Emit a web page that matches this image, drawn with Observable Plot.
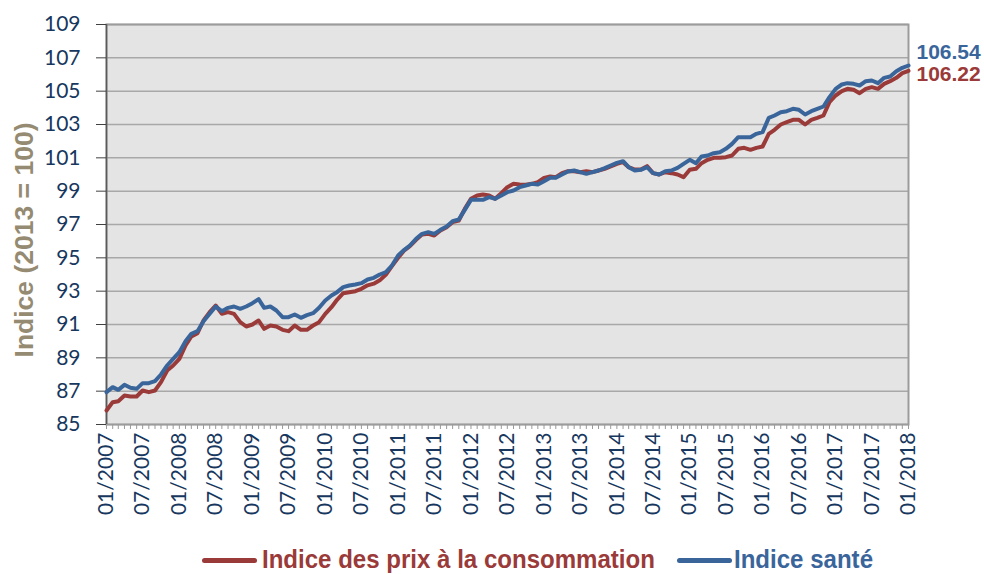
<!DOCTYPE html>
<html>
<head>
<meta charset="utf-8">
<script src="https://cdn.jsdelivr.net/npm/d3@7"></script>
<script src="https://cdn.jsdelivr.net/npm/@observablehq/plot@0.6"></script>
<style>
  html, body { margin: 0; padding: 0; background: #fff; }
  #wrap { position: relative; width: 984px; height: 574px; overflow: hidden; }
  .lg { position: absolute; white-space: nowrap; font-family: "Liberation Sans", Arial, sans-serif; font-weight: bold; font-size: 26px; line-height: 26px; top: 546px; transform-origin: 0 0; transform: scaleX(0.925); }
  .sw { position: absolute; width: 55px; height: 5px; top: 558px; border-radius: 2.5px; }
  #ytitle { position: absolute; left: 33px; top: 240px; white-space: nowrap; font-family: "Liberation Sans", Arial, sans-serif; font-weight: bold; font-size: 26.5px; line-height: 26.5px; color: #958a72; transform-origin: 0 0; transform: rotate(-90deg) translate(-50%, -22.4px); }
</style>
</head>
<body>
<div id="wrap"><div id="chart"></div><div id="ytitle"></div></div>
<script>
const startYear = 2007;
const seriesNames = ["Indice des prix à la consommation", "Indice santé"];
const seriesColors = ["#9a3a39", "#3a659b"];
const yTitle = "Indice (2013 = 100)";
const yTicks = [85, 87, 89, 91, 93, 95, 97, 99, 101, 103, 105, 107, 109];

// Indice des prix à la consommation, monthly 01/2007 .. 01/2018
const ipc = [
  85.84, 86.34, 86.40, 86.74, 86.68, 86.68, 87.04, 86.94, 87.04, 87.54, 88.24, 88.54,
  88.94, 89.74, 90.28, 90.48, 91.24, 91.74, 92.14, 91.64, 91.74, 91.64, 91.14, 90.88,
  91.00, 91.24, 90.74, 90.94, 90.88, 90.68, 90.60, 90.94, 90.68, 90.68, 90.94, 91.14,
  91.64, 92.04, 92.48, 92.88, 92.94, 93.00, 93.14, 93.35, 93.45, 93.65, 94.00, 94.50,
  95.00, 95.45, 95.70, 96.08, 96.40, 96.44, 96.34, 96.64, 96.84, 97.14, 97.24, 97.94,
  98.54, 98.74, 98.80, 98.74, 98.54, 98.88, 99.24, 99.44, 99.40, 99.38, 99.44, 99.54,
  99.80, 99.88, 99.84, 100.08, 100.20, 100.20, 100.14, 100.20, 100.14, 100.24, 100.34, 100.48,
  100.64, 100.74, 100.44, 100.30, 100.30, 100.50, 100.08, 100.00, 100.14, 100.08, 100.00, 99.84,
  100.28, 100.34, 100.68, 100.88, 101.00, 101.00, 101.04, 101.14, 101.54, 101.60, 101.48, 101.60,
  101.68, 102.44, 102.68, 103.00, 103.14, 103.28, 103.28, 103.00, 103.28, 103.40, 103.54, 104.34,
  104.74, 105.00, 105.14, 105.08, 104.88, 105.14, 105.24, 105.14, 105.44, 105.60, 105.80, 106.08,
  106.22
];

// Indice santé, monthly 01/2007 .. 01/2018
const sante = [
  86.94, 87.24, 87.08, 87.38, 87.20, 87.14, 87.48, 87.48, 87.60, 88.00, 88.54, 88.94,
  89.34, 90.00, 90.44, 90.60, 91.20, 91.64, 92.08, 91.80, 92.00, 92.08, 91.94, 92.08,
  92.28, 92.52, 92.00, 92.08, 91.84, 91.44, 91.44, 91.60, 91.40, 91.56, 91.68, 92.00,
  92.44, 92.74, 92.94, 93.24, 93.34, 93.40, 93.48, 93.70, 93.80, 94.00, 94.14, 94.54,
  95.14, 95.48, 95.74, 96.14, 96.44, 96.54, 96.44, 96.68, 96.88, 97.20, 97.30, 97.88,
  98.48, 98.48, 98.48, 98.64, 98.54, 98.74, 98.94, 99.04, 99.24, 99.34, 99.44, 99.40,
  99.60, 99.80, 99.80, 100.00, 100.18, 100.24, 100.14, 100.04, 100.14, 100.24, 100.38, 100.54,
  100.70, 100.80, 100.44, 100.24, 100.28, 100.44, 100.08, 100.00, 100.20, 100.24, 100.40, 100.64,
  100.88, 100.68, 101.08, 101.14, 101.28, 101.34, 101.54, 101.84, 102.24, 102.24, 102.24, 102.44,
  102.54, 103.40, 103.54, 103.74, 103.80, 103.94, 103.88, 103.60, 103.80, 103.94, 104.08, 104.64,
  105.14, 105.40, 105.48, 105.44, 105.34, 105.60, 105.64, 105.48, 105.80, 105.88, 106.20, 106.40,
  106.54
];

const months = ipc.map((_, i) => new Date(Date.UTC(startYear, i, 1)));
const labelMonths = months.filter((_, i) => i % 6 === 0);

const data = [
  ...ipc.map((v, i) => ({date: months[i], value: v, series: seriesNames[0]})),
  ...sante.map((v, i) => ({date: months[i], value: v, series: seriesNames[1]}))
];
const lastIpc = [{date: months[months.length - 1], value: ipc[ipc.length - 1]}];
const lastSante = [{date: months[months.length - 1], value: sante[sante.length - 1]}];

const tickColor = "#17375e";
const boldFont = "Liberation Sans, Arial, sans-serif";

const chart = Plot.plot({
  width: 984,
  height: 540,
  marginTop: 24,
  marginBottom: 116,
  marginLeft: 106,
  marginRight: 76,
  style: {fontFamily: "Lato, sans-serif", background: "transparent", overflow: "visible"},
  x: {type: "utc", domain: [months[0], months[months.length - 1]]},
  y: {domain: [85, 109]},
  color: {domain: seriesNames, range: seriesColors},
  marks: [
    Plot.frame({fill: "#e4e4e4", stroke: null}),
    Plot.gridY(yTicks, {stroke: "#a8a8a8", strokeOpacity: 1, strokeWidth: 1.5}),
    Plot.frame({stroke: "#9c9c9c", strokeWidth: 2}),
    Plot.ruleX([months[0]], {stroke: "#5a5a5a", strokeWidth: 1.5}),
    Plot.axisY({ticks: yTicks, tickSize: 10, tickPadding: 16, fontSize: 21, fill: tickColor, stroke: "#404040", label: null}),
    Plot.axisX({ticks: months, tickSize: 5, tickFormat: () => "", stroke: "#9a9a9a", label: null}),
    Plot.axisX({ticks: labelMonths, tickSize: 0, tickPadding: 8, tickRotate: -90, tickFormat: d3.utcFormat("%m/%Y"), fontSize: 21, fill: tickColor, label: null}),
    Plot.line(data, {x: "date", y: "value", stroke: "series", strokeWidth: 4, strokeLinejoin: "round", strokeLinecap: "round"}),
    Plot.text(lastSante, {x: "date", y: "value", text: d => d.value.toFixed(2), dx: 8, dy: -13, textAnchor: "start", fill: seriesColors[1], fontSize: 21, fontWeight: "bold", fontFamily: boldFont}),
    Plot.text(lastIpc, {x: "date", y: "value", text: d => d.value.toFixed(2), dx: 8, dy: 3, textAnchor: "start", fill: seriesColors[0], fontSize: 21, fontWeight: "bold", fontFamily: boldFont})
  ]
});
document.getElementById("chart").appendChild(chart);
document.getElementById("ytitle").textContent = yTitle;

// Legend below the chart
const wrap = document.getElementById("wrap");
const legendSwatchX = [202, 677];
const legendTextX = [262, 734];
seriesNames.forEach((name, i) => {
  const sw = document.createElement("div");
  sw.className = "sw";
  sw.style.left = legendSwatchX[i] + "px";
  sw.style.background = seriesColors[i];
  const t = document.createElement("div");
  t.className = "lg";
  t.style.left = legendTextX[i] + "px";
  t.style.color = seriesColors[i];
  t.textContent = name;
  wrap.appendChild(sw);
  wrap.appendChild(t);
});
</script>
</body>
</html>
